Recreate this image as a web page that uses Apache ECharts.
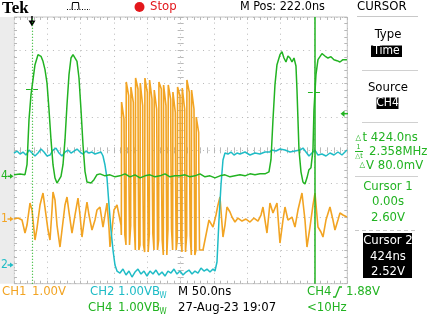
<!DOCTYPE html>
<html><head><meta charset="utf-8">
<script src="https://cdn.jsdelivr.net/npm/echarts@6/dist/echarts.min.js"></script>
<style>html,body{margin:0;padding:0;background:#fff;}#c{width:427px;height:320px;}</style>
</head><body><div id="c"></div>
<script>
// ---- scope settings (1.00 V/div on every channel, 50 ns/div) ----
const timeDivs = [0, 50, 100, 150, 200, 250, 300, 350, 400, 450, 500]; // ns across screen
const voltDivs = [-4, -3, -2, -1, 0, 1, 2, 3, 4];
const T0 = 27;               // trigger / cursor-1 time measured from screen left edge (ns)
const ch1Pos = -2.06;        // ground marker positions (div)
const ch2Pos = -3.44;
const ch4Pos = -0.78;
const trigLevel = 1.88;      // CH4 trigger level (V)
const cursorTimes = [0, 424];     // ns
const cursorVolts = [2.60, 2.52]; // V on CH4

// ---- CH1 (orange), time ns relative to trigger, volts ----
const ch1Time = [-27,-21,-15,-12,-10.5,-7.5,-3,0,4.5,7.5,12,16.5,21,24,27,30,31.5,34.5,37.5,42,45,49.5,52.5,55.5,60,64.5,69,72,75,79.5,82.5,85.5,90,94.5,97.5,102,106.5,109.5,112.5,115.5,117,120,123,127.5,130.5,133.5,
 134,134.4,138,138.4,139,139.3, 141,141.4,145,145.4,146,146.3, 148,148.4,152,152.4,153,153.3,
 155,155.4,159,159.4,160,160.3, 162,162.4,166,166.4,167,167.3, 169,169.4,173,173.4,174,174.3,
 176,176.4,180,180.4,181,181.3, 183,183.4,187,187.4,188,188.3, 190,190.4,194,194.4,195,195.3,
 197,197.4,201,201.4,202,202.3, 204,204.4,208,208.4,209,209.3, 211,211.4,215,215.4,216,216.3,
 218,218.4,222,222.4,223,223.3, 225,225.4,229,229.4,230,230.3, 232,232.4,236,236.4,237,237.3,
 239,239.4,243,243.4,244,244.3, 246,246.4,250,250.4,251,251.3,
 256.5,261,265.5,271.5,276,279,282,286.5,289.5,292.5,297,300,304.5,309,315,321,327,333,339,343.5,346.5,349.5,352.5,357,361.5,367.5,372,376.5,379.5,384,390,394.5,399,405,409.5,412.5,417,421.5,424.5,429,433.5,436.5,441,447,451.5,454.5,459,462,466.5,472.5];
const ch1Volt = [0,0.03,-0.03,0,-0.42,-0.18,0.48,0.27,-0.63,-0.27,0.42,0.78,0.12,-0.33,-0.63,0.27,0.81,0.57,-0.18,-0.84,-0.33,0.42,0.66,0.21,-0.42,0.12,0.63,0.12,-0.54,0.12,0.51,0.12,-0.33,-0.03,0.27,0.36,-0.24,0.12,0.48,-0.27,-0.84,-0.33,0.27,0.42,0.12,-0.18,
 -0.48,3.51,3.0,1.8,1.8,-0.48, -0.78,4.11,3.7,1.2,1.2,-0.78, -0.2,3.96,3.5,2.1,2.1,-0.2,
 -0.93,4.23,3.9,1.5,1.5,-0.93, -0.78,4.08,3.4,0.9,0.9,-0.78, -0.99,4.23,3.8,1.9,1.9,-0.99,
 -0.45,4.17,3.6,1.4,1.4,-0.45, -0.93,3.87,3.3,2.2,2.2,-0.93, -0.63,4.11,3.9,1.1,1.1,-0.63,
 -1.08,4.02,3.4,1.7,1.7,-1.08, -0.3,4.02,3.6,2.0,2.0,-0.3, -0.93,3.81,3.2,1.3,1.3,-0.93,
 -0.63,3.96,3.7,1.8,1.8,-0.63, -0.99,3.93,3.3,1.0,1.0,-0.99, -0.5,4.17,3.8,1.6,1.6,-0.5,
 -1.08,3.87,3.3,2.1,2.1,-1.08, -0.93,3.06,2.6,1.2,1.2,-0.93,
 -0.93,-0.48,-0.03,-0.24,0.12,0.42,0.66,-0.54,-0.18,0.36,0.21,0.06,-0.09,0.03,-0.06,0,-0.09,0.03,-0.06,0.12,0.36,-0.03,-0.42,0.48,0.18,0.48,-0.72,-0.03,0.36,-0.03,0.06,-0.24,0.27,0.78,-0.03,-0.84,-0.24,0.42,0.78,-0.24,-0.39,-0.54,-0.03,0.36,-0.03,-0.33,-0.03,0.18,0.12,0.06];

// ---- CH2 (cyan) ----
const ch2Time = [-27,-22.5,-18,-13.5,-9,-4.5,0,4.5,9,13.5,18,22.5,27,31.5,36,40.5,45,49.5,54,58.5,63,67.5,72,76.5,81,85.5,90,94.5,99,103.5,106.5,109.5,112.5,115.5,118.5,121.5,124.5,127.5,132,136.5,141,145.5,150,154.5,159,163.5,168,172.5,177,181.5,186,190.5,195,199.5,204,208.5,213,217.5,222,226.5,231,235.5,240,244.5,249,253.5,258,262.5,267,271.5,274.5,277.5,280.5,283.5,286.5,289.5,294,298.5,303,307.5,312,319.5,327,334.5,342,349.5,357,360,366,372,379.5,387,394.5,402,406.5,411,415.5,420,424.5,429,435,441,447,453,459,465,472.5];
const ch2Volt = [3.36,3.42,3.33,3.39,3.3,3.45,3.36,3.27,3.36,3.48,3.39,3.27,3.3,3.45,3.51,3.36,3.27,3.39,3.45,3.36,3.42,3.48,3.39,3.33,3.42,3.36,3.39,3.33,3.36,3.39,3.27,3.0,2.61,1.8,1.05,0.45,0,-0.18,-0.24,-0.12,-0.3,-0.18,-0.36,-0.21,-0.12,-0.27,-0.18,-0.33,-0.18,-0.27,-0.15,-0.3,-0.21,-0.33,-0.18,-0.24,-0.12,-0.27,-0.18,-0.3,-0.21,-0.15,-0.27,-0.18,-0.24,-0.09,-0.18,-0.12,-0.21,-0.12,-0.18,0.09,1.35,2.4,3.15,3.36,3.33,3.39,3.3,3.36,3.33,3.39,3.3,3.36,3.33,3.39,3.39,3.45,3.42,3.48,3.45,3.39,3.42,3.45,3.51,3.39,3.27,3.36,3.45,3.3,3.33,3.27,3.36,3.3,3.39,3.3,3.45];

// ---- CH4 (green) ----
const ch4Time = [-27,-18,-10.5,-7.5,-4.5,-1.5,1.5,4.5,9,13.5,16.5,19.5,22.5,25.5,28.5,31.5,34.5,37.5,40.5,43.5,46.5,49.5,52.5,55.5,58.5,61.5,64.5,67.5,70.5,73.5,76.5,79.5,82.5,88.5,93,97.5,102,109.5,117,124.5,132,139.5,147,154.5,162,169.5,177,184.5,192,199.5,207,214.5,222,229.5,237,244.5,252,259.5,267,274.5,282,289.5,297,304.5,312,319.5,327,334.5,342,349.5,355.5,358.5,361.5,364.5,367.5,372,375,378,381,384,387,390,393,396,397.5,399,400.5,403.5,406.5,409.5,412.5,415.5,418.5,421.5,423,426,429,432,435,439.5,444,448.5,453,457.5,462,466.5,472.5];
const ch4Volt = [0.05,0.07,0.05,0.35,1.7,2.45,2.9,3.35,3.65,3.6,3.45,3.2,2.8,2.0,1.1,0.35,-0.05,-0.2,-0.17,0.0,0.35,1.1,2.15,3.05,3.55,3.65,3.6,3.45,2.95,2.0,0.95,0.15,-0.17,-0.2,-0.1,0.05,0.075,0.015,0.045,-0.015,0.015,0.075,-0.015,0.045,-0.045,0.015,0.045,-0.015,0.015,0.075,-0.015,0.015,0.015,0.045,-0.015,0.015,0.075,-0.015,0.015,-0.045,0.015,0.045,-0.015,0.015,0.045,0.015,0.075,0.045,0.075,0.075,0.135,0.5,1.7,2.75,3.35,3.65,3.74,3.55,3.43,3.61,3.55,3.43,3.55,3.31,2.6,1.7,0.8,0.135,-0.17,-0.23,-0.045,0.2,0.26,0.8,2.0,3.05,3.5,3.55,3.68,3.61,3.55,3.59,3.5,3.47,3.43,3.5,3.5];

// ---- colours / fonts ----
const ORANGE = '#f2a423', CYAN = '#1fbcc6', GREEN = '#22b322', GRIDC = '#b8b8b8', BORDER = '#c4c4c4';
const FONT = "'DejaVu Sans Condensed','Liberation Sans Narrow','DejaVu Sans',sans-serif";

const pts = (T, V, pos) => T.map((t, i) => [t + T0, V[i] + pos]);

const chart = echarts.init(document.getElementById('c'), null, {renderer: 'canvas'});

function xAxisCfg(position, offset, split) {
  return {
    type: 'value', position, offset, min: timeDivs[0], max: timeDivs[timeDivs.length - 1], interval: 50,
    axisLabel: {show: false},
    axisLine: {show: false, onZero: false},
    axisTick: {show: true, inside: true, length: 3, lineStyle: {color: GRIDC}},
    minorTick: {show: true, splitNumber: 5, length: 3, lineStyle: {color: GRIDC}},
    splitLine: {show: split, lineStyle: {color: GRIDC, type: [1, 4.56], width: 1}},
    minorSplitLine: {show: false}
  };
}
function yAxisCfg(position, offset, split) {
  return {
    type: 'value', position, offset, min: voltDivs[0], max: voltDivs[voltDivs.length - 1], interval: 1,
    axisLabel: {show: false},
    axisLine: {show: false, onZero: false},
    axisTick: {show: true, inside: true, length: 3, lineStyle: {color: GRIDC}},
    minorTick: {show: true, splitNumber: 5, length: 3, lineStyle: {color: GRIDC}},
    splitLine: {show: split, lineStyle: {color: GRIDC, type: [1, 4.56], width: 1}},
    minorSplitLine: {show: false}
  };
}

const GH = 266.7, GW = 333.3;
chart.setOption({
  animation: false,
  backgroundColor: '#ffffff',
  grid: {left: 14, top: 17, width: GW, height: GH, show: true, borderColor: BORDER, borderWidth: 1, backgroundColor: '#ffffff'},
  xAxis: [xAxisCfg('bottom', 0, true), xAxisCfg('top', 0, false), xAxisCfg('bottom', -GH / 2, false), xAxisCfg('top', -GH / 2, false)],
  yAxis: [yAxisCfg('left', 0, true), yAxisCfg('right', 0, false), yAxisCfg('left', -GW / 2, false), yAxisCfg('right', -GW / 2, false)],
  series: [
    {type: 'line', name: 'CH1', data: pts(ch1Time, ch1Volt, ch1Pos), showSymbol: false, symbol: 'none', z: 2,
     lineStyle: {color: ORANGE, width: 1.6}, silent: true},
    {type: 'line', name: 'CH2', data: pts(ch2Time, ch2Volt, ch2Pos), showSymbol: false, symbol: 'none', z: 3,
     lineStyle: {color: CYAN, width: 1.5}, silent: true},
    {type: 'line', name: 'CH4', data: pts(ch4Time, ch4Volt, ch4Pos), showSymbol: false, symbol: 'none', z: 4,
     lineStyle: {color: GREEN, width: 1.5}, silent: true,
     markLine: {
       symbol: 'none', silent: true, animation: false, label: {show: false},
       lineStyle: {color: GREEN, width: 1.2},
       emphasis: {disabled: true},
       data: [
         {xAxis: cursorTimes[0] + T0, lineStyle: {type: [1, 2], width: 1.2}},
         {xAxis: cursorTimes[1] + T0, lineStyle: {type: 'solid', width: 1.5}},
         [{coord: [cursorTimes[0] + T0 - 9, cursorVolts[0] + ch4Pos]}, {coord: [cursorTimes[0] + T0 + 12, cursorVolts[0] + ch4Pos]}],
         [{coord: [cursorTimes[1] + T0 - 10, cursorVolts[1] + ch4Pos]}, {coord: [cursorTimes[1] + T0 + 10, cursorVolts[1] + ch4Pos]}]
       ]
     }}
  ]
});

// ---------- annotations placed through the chart's scales ----------
const px = v => chart.convertToPixel({xAxisIndex: 0}, v);
const py = v => chart.convertToPixel({yAxisIndex: 0}, v);
const ctx = document.createElement('canvas').getContext('2d');
const tw = (s, size) => { ctx.font = size + 'px ' + FONT; return ctx.measureText(s).width; };

const G = [];
const txt = (x, y, s, color, size, align, extra) => G.push(Object.assign({
  type: 'text', x, y, silent: true,
  style: {text: s, fill: color, font: size + 'px ' + FONT, textAlign: align || 'left', textVerticalAlign: 'middle'}
}, extra || {}));
const line = (x1, y1, x2, y2, color, w, dash) => G.push({type: 'line', silent: true,
  shape: {x1, y1, x2, y2}, style: {stroke: color, lineWidth: w || 1, lineDash: dash || null}});
const rect = (x, y, w, h, fill) => G.push({type: 'rect', silent: true, shape: {x, y, width: w, height: h}, style: {fill}});

// left gray strip
rect(0, 17, 13.5, GH, '#ececec');

// ground markers
[[ch4Pos, '4', GREEN], [ch1Pos, '1', ORANGE], [ch2Pos, '2', CYAN]].forEach(([p, s, c]) => {
  const y = py(p);
  txt(1, y, s, c, 12);
  line(7.5, y, 11, y, c, 1.4);
  G.push({type: 'polygon', silent: true, shape: {points: [[10, y - 2.5], [13.5, y], [10, y + 2.5]]}, style: {fill: c}});
});

// trigger position (top) and trigger level (right)
{
  const x = px(cursorTimes[0] + T0);
  line(x, 16, x, 21, '#000', 1.5);
  G.push({type: 'polygon', silent: true, shape: {points: [[x - 3.5, 20.5], [x + 3.5, 20.5], [x, 26.5]]}, style: {fill: '#000'}});
  const y = py(trigLevel + ch4Pos);
  G.push({type: 'polygon', silent: true, shape: {points: [[340.5, y], [344.5, y - 3.2], [344.5, y + 3.2]]}, style: {fill: GREEN}});
  line(344, y, 348, y, GREEN, 1.5);
}

// top bar
G.push({type: 'text', x: 2, y: 9, silent: true,
  style: {text: 'Tek', fill: '#000', font: 'bold 17px "Liberation Serif","DejaVu Serif",serif', textVerticalAlign: 'middle'}});
line(67, 9.5, 90, 9.5, '#000', 1, [1, 1.5]);
G.push({type: 'polyline', silent: true, shape: {points: [[72, 9.5], [72.5, 2.5], [78.5, 2.5], [79, 9.5]]}, style: {stroke: '#000', lineWidth: 1, fill: null}});
G.push({type: 'circle', silent: true, shape: {cx: 139.5, cy: 7, r: 5}, style: {fill: '#e3171b'}});
txt(150, 7, 'Stop', '#e3171b', 13);
txt(240, 7, 'M Pos: 222.0ns', '#000', 12.5);
txt(357, 7, 'CURSOR', '#000', 13);
line(357, 16.5, 418, 16.5, '#c8c8c8', 1);

// right panel
const CX = 388;
txt(CX, 35, 'Type', '#000', 13, 'center');
rect(371, 45.5, 31, 11.5, '#000');
txt(386.5, 51.3, 'Time', '#fff', 12, 'center');
line(362, 70.5, 418, 70.5, '#d0d0d0', 1);
txt(CX, 88, 'Source', '#000', 13, 'center');
rect(376.5, 97.5, 22, 11.5, '#000');
txt(387.5, 103.3, 'CH4', '#fff', 12, 'center');
line(362, 122.5, 418, 122.5, '#d0d0d0', 1);
txt(355.5, 137.5, '△', GREEN, 8);
txt(362.5, 138, 't 424.0ns', GREEN, 13);
txt(358.5, 147.5, '1', GREEN, 7, 'center');
line(355, 151.5, 363, 151.5, GREEN, 1);
txt(359, 156, '△t', GREEN, 7, 'center');
txt(369, 152, '2.358MHz', GREEN, 13);
txt(359.5, 165, '△', GREEN, 8);
txt(366, 165.5, 'V 80.0mV', GREEN, 13);
line(355, 176.5, 418, 176.5, '#d0d0d0', 1);
txt(CX, 187, 'Cursor 1', GREEN, 13, 'center');
txt(CX, 202, '0.00s', GREEN, 13, 'center');
txt(CX, 217.5, '2.60V', GREEN, 13, 'center');
line(355, 230.5, 418, 230.5, '#c8c8c8', 1, [4, 3]);
rect(363, 233, 49, 45, '#000');
txt(CX, 240.5, 'Cursor 2', '#fff', 13, 'center');
txt(CX, 256.5, '424ns', '#fff', 13, 'center');
txt(CX, 271.5, '2.52V', '#fff', 13, 'center');

// bottom status
const R1 = 292, R2 = 308;
txt(2, R1, 'CH1', ORANGE, 13);
txt(32, R1, '1.00V', ORANGE, 13);
txt(90, R1, 'CH2', CYAN, 13);
const bw = (x, y, c) => {
  txt(x, y, '1.00VB', c, 13);
  txt(x + tw('1.00VB', 13) - 0.5, y + 4, 'W', c, 8);
};
bw(118, R1, CYAN);
txt(178, R1, 'M 50.0ns', '#000', 13);
txt(307, R1, 'CH4', GREEN, 13);
G.push({type: 'polyline', silent: true, shape: {points: [[333, 297], [335.5, 297], [339.5, 287], [342, 287]]}, style: {stroke: GREEN, lineWidth: 1.3, fill: null}});
txt(346, R1, '1.88V', GREEN, 13);
txt(88, R2, 'CH4', GREEN, 13);
bw(118, R2, GREEN);
txt(178, R2, '27-Aug-23 19:07', '#000', 13);
txt(307, R2, '<10Hz', GREEN, 13);

chart.setOption({graphic: {elements: G}});
</script></body></html>
